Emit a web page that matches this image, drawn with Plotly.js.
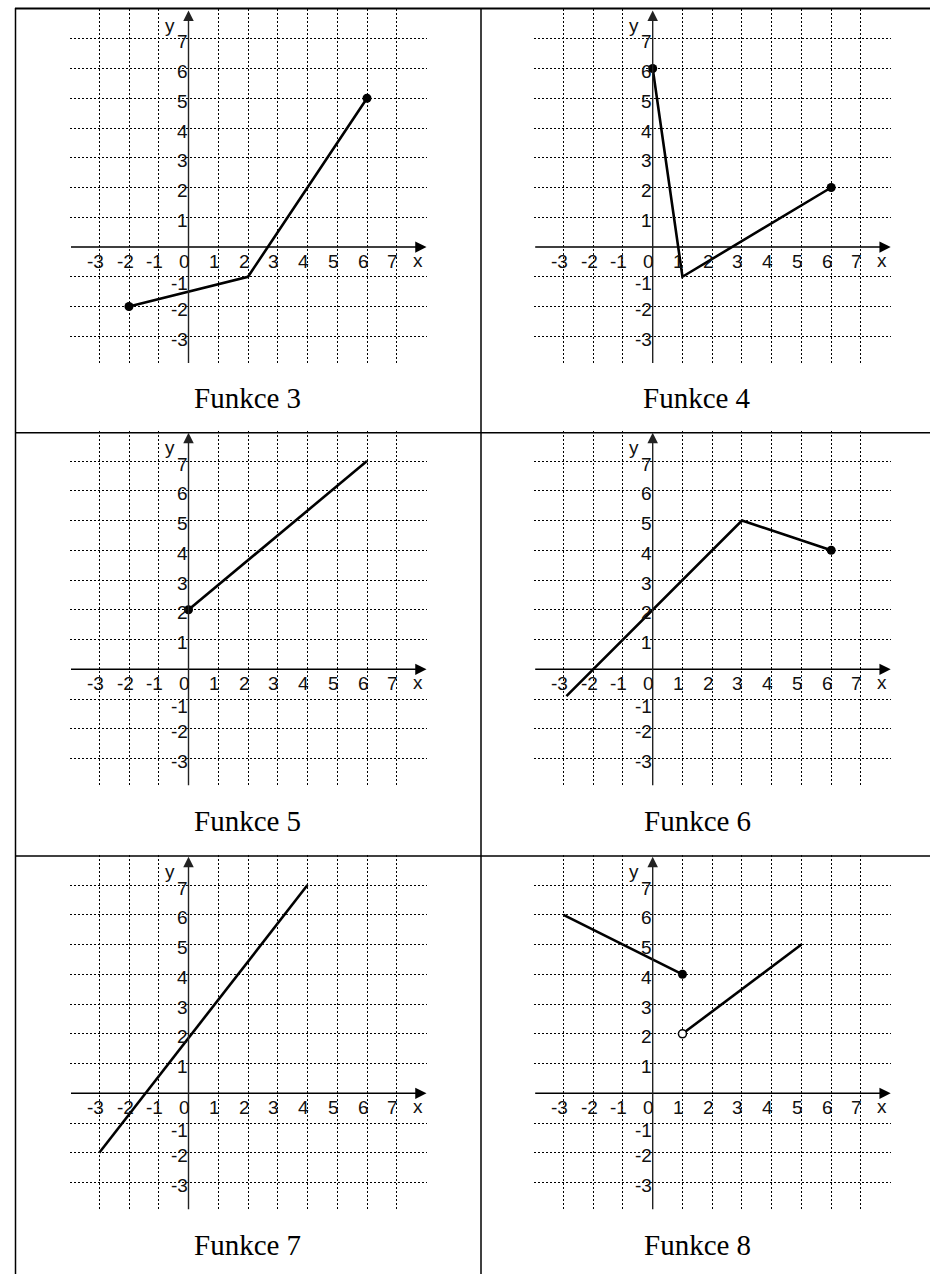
<!DOCTYPE html>
<html>
<head>
<meta charset="utf-8">
<script src="https://cdn.plot.ly/plotly-3.0.1.min.js"></script>
<style>
  html, body { margin: 0; padding: 0; background: #fff; }
  #chart { width: 930px; height: 1274px; }
</style>
</head>
<body>
<div id="chart"></div>
<script>
// Panel captions
const captions = ['Funkce 3', 'Funkce 4', 'Funkce 5', 'Funkce 6', 'Funkce 7', 'Funkce 8'];

// Grid / tick values shared by every panel
const xTicks = [-3, -2, -1, 0, 1, 2, 3, 4, 5, 6, 7];
const yTicks = [-3, -2, -1, 1, 2, 3, 4, 5, 6, 7];

// Function graphs (polyline vertices)
const f3x = [-2, 2, 6],      f3y = [-2, -1, 5];
const f4x = [0, 1, 6],       f4y = [6, -1, 2];
const f5x = [0, 6],          f5y = [2, 7];
const f6x = [-2.9, 3, 6],    f6y = [-0.9, 5, 4];
const f7x = [-3, 4],         f7y = [-2, 7];
const f8ax = [-3, 1],        f8ay = [6, 4];
const f8bx = [1, 5],         f8by = [2, 5];

// Closed (filled) end points
const f3dotX = [-2, 6], f3dotY = [-2, 5];
const f4dotX = [0, 6],  f4dotY = [6, 2];
const f5dotX = [0],     f5dotY = [2];
const f6dotX = [6],     f6dotY = [4];
const f8dotX = [1],     f8dotY = [4];
// Open end point
const f8openX = [1], f8openY = [2];

const panels = [
  { lines: [[f3x, f3y]], dots: [f3dotX, f3dotY], open: null },
  { lines: [[f4x, f4y]], dots: [f4dotX, f4dotY], open: null },
  { lines: [[f5x, f5y]], dots: [f5dotX, f5dotY], open: null },
  { lines: [[f6x, f6y]], dots: [f6dotX, f6dotY], open: null },
  { lines: [[f7x, f7y]], dots: null, open: null },
  { lines: [[f8ax, f8ay], [f8bx, f8by]], dots: [f8dotX, f8dotY], open: [f8openX, f8openY] }
];

// Page geometry (pixels)
const W = 930, H = 1274;
const UNIT = 29.75;
const yAxisPx = [188.5, 652.7];          // screen x of the y axis, per column
const xAxisPx = [247, 669.3, 1093.3];    // screen y of the x axis, per row
const X_MIN = -4, X_MAX = 8, Y_MIN = -3.95, Y_MAX = 8;
const captionX = [247.5, 697];
const captionY = [398, 821.4, 1244.8];

const px2fx = p => p / W;
const px2fy = p => 1 - p / H;

const traces = [];
const layout = {
  width: W, height: H,
  margin: { l: 0, r: 0, t: 0, b: 0 },
  paper_bgcolor: '#fff',
  plot_bgcolor: 'rgba(0,0,0,0)',
  showlegend: false,
  annotations: [],
  shapes: []
};

const tickFont = { family: 'Liberation Sans, Arial, sans-serif', size: 19, color: '#111' };

panels.forEach((p, i) => {
  const col = i % 2, row = Math.floor(i / 2);
  const sfx = i === 0 ? '' : String(i + 1);
  const xa = 'x' + sfx, ya = 'y' + sfx;

  const x0 = yAxisPx[col] + X_MIN * UNIT, x1 = yAxisPx[col] + X_MAX * UNIT;
  const yTop = xAxisPx[row] - Y_MAX * UNIT, yBot = xAxisPx[row] - Y_MIN * UNIT;

  const common = {
    showline: false, zeroline: false, showticklabels: false, ticks: '',
    showgrid: true, gridcolor: '#000', gridwidth: 1, griddash: '2px,2px',
    tickmode: 'array', fixedrange: true
  };
  layout['xaxis' + sfx] = Object.assign({}, common, {
    domain: [px2fx(x0), px2fx(x1)], range: [X_MIN, X_MAX], anchor: ya,
    tickvals: xTicks.filter(v => v !== 0)
  });
  layout['yaxis' + sfx] = Object.assign({}, common, {
    domain: [px2fy(yBot), px2fy(yTop)], range: [Y_MIN, Y_MAX], anchor: xa,
    tickvals: yTicks
  });

  // Axes with arrowheads
  layout.annotations.push({
    xref: xa, yref: ya, axref: xa, ayref: ya,
    x: X_MAX, y: 0, ax: X_MIN, ay: 0, text: '',
    showarrow: true, arrowhead: 2, arrowsize: 1.5, arrowwidth: 1.5, arrowcolor: '#000',
    standoff: 0, startstandoff: 0
  });
  layout.annotations.push({
    xref: xa, yref: ya, axref: xa, ayref: ya,
    x: 0, y: Y_MAX - 0.05, ax: 0, ay: Y_MIN, text: '',
    showarrow: true, arrowhead: 2, arrowsize: 1.5, arrowwidth: 1.4, arrowcolor: '#222',
    standoff: 0, startstandoff: 0
  });

  // Tick labels
  xTicks.forEach(v => {
    layout.annotations.push({
      xref: xa, yref: ya, x: v, y: 0, text: String(v), showarrow: false, borderpad: 0,
      xanchor: 'center', yanchor: 'middle', xshift: -4, yshift: -14, font: tickFont
    });
  });
  yTicks.forEach(v => {
    layout.annotations.push({
      xref: xa, yref: ya, x: 0, y: v, text: String(v), showarrow: false, borderpad: 0,
      xanchor: 'right', yanchor: 'middle', xshift: 0, yshift: v === -1 ? -7 : -3, font: tickFont
    });
  });
  layout.annotations.push({
    xref: xa, yref: ya, x: 7.7, y: 0, text: 'x', showarrow: false, borderpad: 0,
    xanchor: 'center', yanchor: 'middle', yshift: -13, font: tickFont
  });
  layout.annotations.push({
    xref: xa, yref: ya, x: -0.62, y: 7.45, text: 'y', showarrow: false, borderpad: 0,
    xanchor: 'center', yanchor: 'middle', font: tickFont
  });

  // Caption
  layout.annotations.push({
    xref: 'paper', yref: 'paper', x: px2fx(captionX[col]), y: px2fy(captionY[row]),
    text: captions[i], showarrow: false, xanchor: 'center', yanchor: 'middle',
    font: { family: 'Liberation Serif, Times New Roman, serif', size: 29, color: '#000' }
  });

  // Graph lines
  p.lines.forEach(([lx, ly]) => {
    traces.push({
      type: 'scatter', mode: 'lines', x: lx, y: ly, xaxis: xa, yaxis: ya,
      line: { color: '#000', width: 2.6 }, hoverinfo: 'skip'
    });
  });
  if (p.dots) {
    traces.push({
      type: 'scatter', mode: 'markers', x: p.dots[0], y: p.dots[1], xaxis: xa, yaxis: ya,
      marker: { size: 9, color: '#000' }, cliponaxis: false, hoverinfo: 'skip'
    });
  }
  if (p.open) {
    traces.push({
      type: 'scatter', mode: 'markers', x: p.open[0], y: p.open[1], xaxis: xa, yaxis: ya,
      marker: { size: 8, color: '#fff', line: { color: '#000', width: 1.5 } },
      cliponaxis: false, hoverinfo: 'skip'
    });
  }
});

// Table rules
const rule = (x0, y0, x1, y1, w) => ({
  type: 'line', xref: 'paper', yref: 'paper', layer: 'above',
  x0: px2fx(x0), y0: px2fy(y0), x1: px2fx(x1), y1: px2fy(y1),
  line: { color: '#000', width: w }
});
layout.shapes.push(rule(15, 8.5, W, 8.5, 2));
layout.shapes.push(rule(15, 432.7, W, 432.7, 1.5));
layout.shapes.push(rule(15, 856, W, 856, 1.5));
layout.shapes.push(rule(15.5, 8, 15.5, H, 1.5));
layout.shapes.push(rule(481, 8, 481, H, 1.5));

Plotly.newPlot('chart', traces, layout, { staticPlot: true, displayModeBar: false });
</script>
</body>
</html>
